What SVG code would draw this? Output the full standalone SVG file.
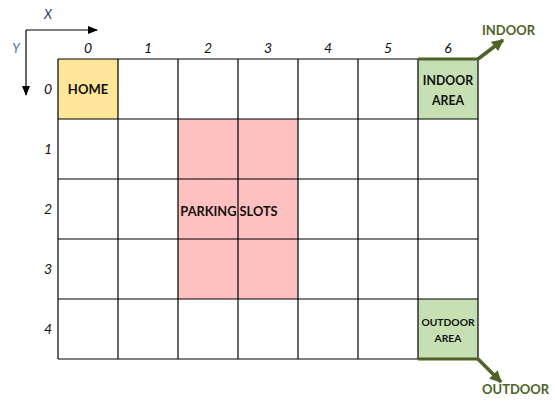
<svg xmlns="http://www.w3.org/2000/svg" width="555" height="415" viewBox="0 0 555 415">
<defs>
<style>
.lbl{font-family:Lato,"Open Sans","Liberation Sans",sans-serif;font-weight:bold;fill:#111;text-anchor:middle}
.num{font-family:Lato,"Open Sans","Liberation Sans",sans-serif;font-style:italic;font-size:14px;fill:#111;text-anchor:middle}
.grid{stroke:#000;stroke-width:1.2;fill:none}
.ext{font-family:Lato,"Open Sans","Liberation Sans",sans-serif;font-weight:bold;font-size:13px;fill:#4F6228}
</style>
<marker id="ah" viewBox="0 0 10 10" refX="9" refY="5" markerWidth="3.4" markerHeight="3.4" orient="auto"><path d="M0,0L10,5L0,10z" fill="#4F6228"/></marker>
<marker id="axh" viewBox="0 0 10 10" refX="9" refY="5" markerWidth="10" markerHeight="10" markerUnits="userSpaceOnUse" orient="auto"><path d="M0,1L10,5L0,9z" fill="#000"/></marker>
</defs>
<rect width="555" height="415" fill="#fff"/>
<g id="axes">
<line x1="26" y1="30" x2="97" y2="30" stroke="#000" stroke-width="1.2" marker-end="url(#axh)"/>
<line x1="26" y1="30" x2="26" y2="95" stroke="#000" stroke-width="1.2" marker-end="url(#axh)"/>
<text x="48" y="19" font-family="Lato,'Open Sans','Liberation Sans',sans-serif" font-style="italic" font-size="13" fill="#1F3864" text-anchor="middle">X</text>
<text x="16" y="53" font-family="Lato,'Open Sans','Liberation Sans',sans-serif" font-style="italic" font-size="13" fill="#4472C4" text-anchor="middle">Y</text>
</g>
<g id="fills">
<rect id="home" x="58" y="59" width="60" height="60" fill="#FFE699"/>
<rect id="parking" x="178" y="119" width="120" height="180" fill="#FFC0C0"/>
<rect id="indoor" x="418" y="59" width="60" height="60" fill="#C6E0B4"/>
<rect id="outdoor" x="418" y="299" width="60" height="60" fill="#C6E0B4"/>
</g>
<g id="grid" class="grid">
<path d="M58,59H478M58,119H478M58,179H478M58,239H478M58,299H478M58,359H478"/>
<path d="M58,59V359M118,59V359M178,59V359M238,59V359M298,59V359M358,59V359M418,59V359M478,59V359"/>
</g>
<g id="numbers">
<text class="num" x="88" y="53">0</text>
<text class="num" x="148" y="53">1</text>
<text class="num" x="208" y="53">2</text>
<text class="num" x="268" y="53">3</text>
<text class="num" x="328" y="53">4</text>
<text class="num" x="388" y="53">5</text>
<text class="num" x="448" y="53">6</text>
<text class="num" x="48" y="94">0</text>
<text class="num" x="48" y="154">1</text>
<text class="num" x="48" y="214">2</text>
<text class="num" x="48" y="274">3</text>
<text class="num" x="48" y="334">4</text>
</g>
<g id="labels">
<text class="lbl" x="229" y="216" font-size="12.8">PARKING SLOTS</text>
<text class="lbl" x="88" y="94" font-size="13">HOME</text>
<text class="lbl" x="448" y="85" font-size="12.3">INDOOR</text>
<text class="lbl" x="448" y="105" font-size="12.3">AREA</text>
<text class="lbl" x="448" y="326" font-size="10.3">OUTDOOR</text>
<text class="lbl" x="448" y="342" font-size="10.3">AREA</text>
</g>
<g id="connectors" stroke="#4F6228" fill="none">
<line x1="418" y1="59" x2="478" y2="59" stroke-width="3"/>
<line x1="418" y1="359" x2="478" y2="359" stroke-width="3"/>
<line x1="478" y1="59" x2="503" y2="40" stroke-width="3.5" marker-end="url(#ah)"/>
<line x1="478" y1="359" x2="501" y2="382" stroke-width="3.5" marker-end="url(#ah)"/>
</g>
<g id="externals">
<text class="ext" x="482" y="35">INDOOR</text>
<text class="ext" x="482" y="394">OUTDOOR</text>
</g>
</svg>
